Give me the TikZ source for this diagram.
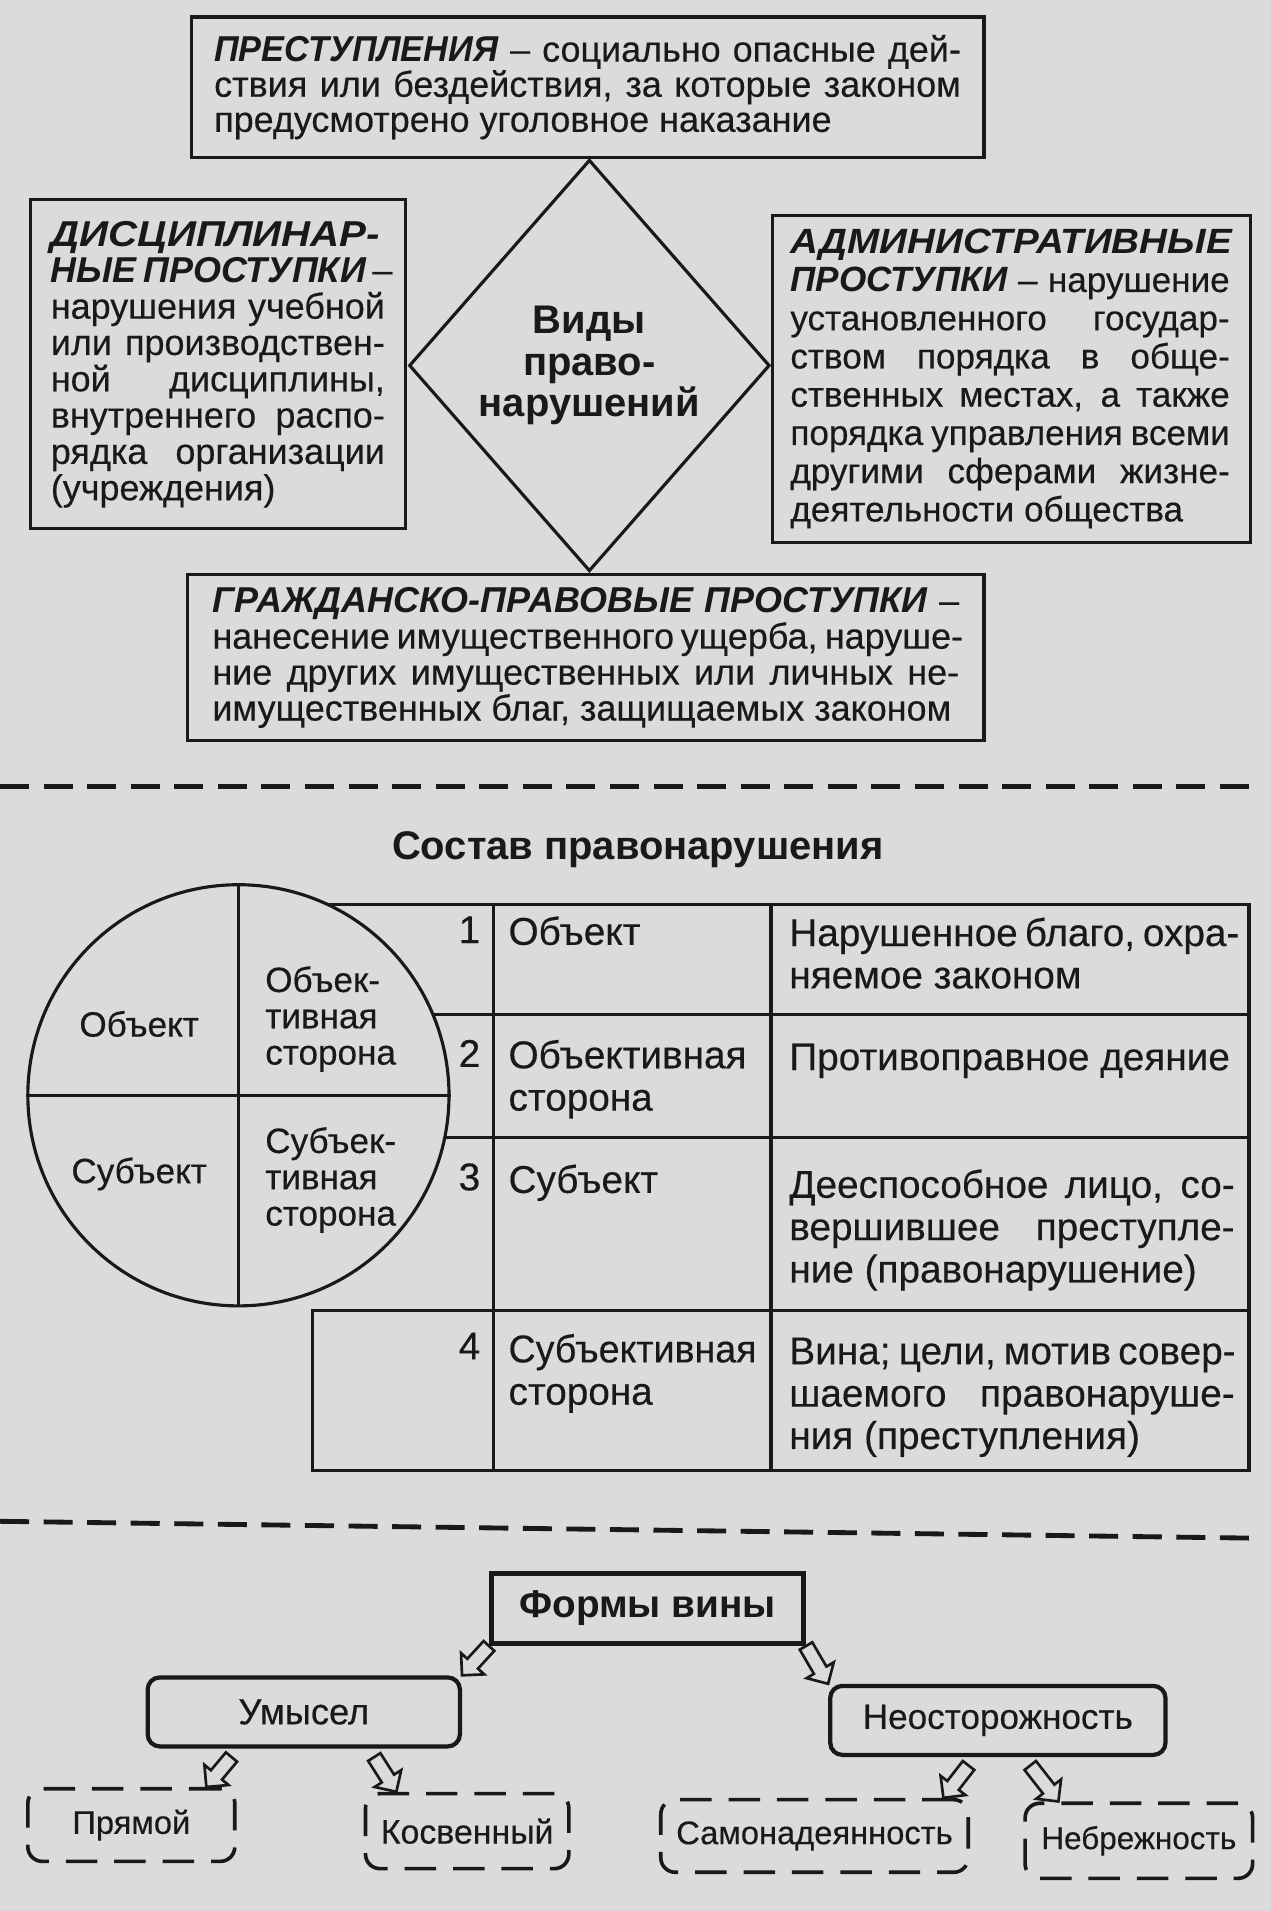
\documentclass[tikz,border=0pt]{standalone}
\usepackage{graphicx}
\usepackage{fontspec}
\setmainfont{Liberation Sans}[UprightFeatures={FakeBold=0.35}]
\usetikzlibrary{shapes.geometric,calc}
\definecolor{paper}{gray}{0.86}
\definecolor{ink}{gray}{0.1}
\newcommand\jl[2]{\makebox[#1][s]{#2}}
\newcommand\bi[1]{{\bfseries\itshape #1}}
\begin{document}
\begin{tikzpicture}[x=1pt,y=-1pt,
  every node/.style={text=ink},
  tbox/.style={draw=ink, line width=2.6pt, inner sep=0pt, align=left, rectangle},
  tline/.style={draw=ink, line width=2.6pt, line join=miter},
  sepline/.style={draw=ink, line width=4pt, dash pattern=on 24pt off 12pt},
  ctext/.style={font=\fontsize{29}{30}\selectfont, inner sep=0pt, align=left},
  cell/.style={font=\fontsize{32}{35}\selectfont, inner sep=0pt, align=left, anchor=north west},
  num/.style={font=\fontsize{32}{35}\selectfont, inner sep=0pt, anchor=north east},
  formbox/.style={draw=ink, line width=4pt, minimum width=258pt, minimum height=58pt, inner sep=0pt, font=\bfseries\fontsize{32}{32}\selectfont},
  rbox/.style={draw=ink, line width=3.5pt, rounded corners=10pt, inner sep=0pt},
  dbox/.style={draw=ink, line width=3pt, rounded corners=12pt, dash pattern=on 26pt off 14pt, inner sep=0pt},
  hollow/.style={draw=ink, fill=paper, line width=2.2pt, line join=miter, to path={
    ($(\tikztostart)!6pt!90:(\tikztotarget)$) --
    ($(\tikztotarget)!13pt!(\tikztostart)!6pt!90:(\tikztotarget)$) --
    ($(\tikztotarget)!13pt!(\tikztostart)!13pt!90:(\tikztotarget)$) --
    (\tikztotarget) --
    ($(\tikztotarget)!13pt!(\tikztostart)!13pt!-90:(\tikztotarget)$) --
    ($(\tikztotarget)!13pt!(\tikztostart)!6pt!-90:(\tikztotarget)$) --
    ($(\tikztostart)!6pt!-90:(\tikztotarget)$) -- cycle}}
]
\useasboundingbox (0,0) rectangle (1050,1579);
\fill[paper] (0,0) rectangle (1050,1579);

% ---------- Section 1 ----------
\node[tbox, minimum width=655pt, minimum height=116pt,
  font=\fontsize{29.7}{29}\selectfont] (prest) at (485.5,72)
 {\jl{617pt}{\scalebox{0.955}[1]{\bi{ПРЕСТУПЛЕНИЯ}} – социально опасные дей-}\\
  \jl{617pt}{ствия или бездействия, за которые законом}\\
  предусмотрено уголовное наказание};

\node[tbox, minimum width=310pt, minimum height=272pt,
  font=\fontsize{29.7}{30}\selectfont] (disc) at (180,301)
 {\scalebox{1.12}[1]{\bi{ДИСЦИПЛИНАР-}}\\
  \jl{276pt}{\bi{НЫЕ ПРОСТУПКИ} –}\\
  \jl{276pt}{нарушения учебной}\\
  \jl{276pt}{или производствен-}\\
  \jl{276pt}{ной дисциплины,}\\
  \jl{276pt}{внутреннего распо-}\\
  \jl{276pt}{рядка организации}\\
  (учреждения)};

\node[tbox, minimum width=395pt, minimum height=270pt,
  font=\fontsize{29}{31.6}\selectfont] (admin) at (835.5,313)
 {\scalebox{1.1}[1]{\bi{АДМИНИСТРАТИВНЫЕ}}\\
  \jl{363pt}{\bi{ПРОСТУПКИ} – нарушение}\\
  \jl{363pt}{установленного государ-}\\
  \jl{363pt}{ством порядка в обще-}\\
  \jl{363pt}{ственных местах, а также}\\
  \jl{363pt}{порядка управления всеми}\\
  \jl{363pt}{другими сферами жизне-}\\
  деятельности общества};

\node[tbox, minimum width=658pt, minimum height=137pt,
  font=\fontsize{29.7}{29.7}\selectfont] (civil) at (484,543.5)
 {\jl{617pt}{\bi{ГРАЖДАНСКО-ПРАВОВЫЕ ПРОСТУПКИ} –}\\
  \jl{617pt}{нанесение имущественного ущерба, наруше-}\\
  \jl{617pt}{ние других имущественных или личных не-}\\
  имущественных благ, защищаемых законом};

\node[diamond, draw=ink, line width=2.6pt, minimum width=298pt, minimum height=340pt,
  inner sep=0pt, align=center, font=\bfseries\fontsize{33}{34.5}\selectfont]
  (vidy) at (487,302) {Виды\\право-\\нарушений};

\coordinate (s1a) at (0,650);
\coordinate (s1b) at (1042,650);
\draw[sepline] (s1a) -- (s1b);

% ---------- Section 2 ----------
\node[font=\bfseries\fontsize{33}{33}\selectfont, inner sep=0pt] (sostav) at (527,702) {Состав правонарушения};

\draw[tline] (200,747) -- (1032,747) -- (1032,1215) -- (258,1215) -- (258,1083) -- (1032,1083);
\draw[tline] (200,838) -- (1032,838);
\draw[tline] (200,940) -- (1032,940);
\draw[tline] (408,747) -- (408,1215);
\draw[tline] (637,747) -- (637,1215);

\node[circle, draw=ink, fill=paper, line width=2.6pt, minimum size=348pt, inner sep=0pt] (circ) at (197,905) {};
\draw[tline] (circ.north) -- (circ.south);
\draw[tline] (circ.west) -- (circ.east);

\node[ctext] (co) at (115,846) {Объект};
\node[ctext, anchor=west] (cos) at (219,842) {Объек-\\тивная\\сторона};
\node[ctext] (cs) at (115,970) {Субъект};
\node[ctext, anchor=west] (css) at (219,975) {Субъек-\\тивная\\сторона};

\node[num] (n1) at (397,757) {1};
\node[num] (n2) at (397,859) {2};
\node[num] (n3) at (397,961) {3};
\node[num] (n4) at (397,1101) {4};

\node[cell] (a1) at (420,757) {Объект};
\node[cell] (a2) at (420,859) {Объективная\\сторона};
\node[cell] (a3) at (420,962) {Субъект};
\node[cell] (a4) at (420,1102) {\scalebox{0.97}[1]{Субъективная}\\сторона};

\node[cell] (b1) at (652,758) {\jl{368pt}{Нарушенное благо, охра-}\\няемое законом};
\node[cell] (b2) at (652,862) {Противоправное деяние};
\node[cell] (b3) at (652,966) {\jl{368pt}{Дееспособное лицо, со-}\\\jl{368pt}{вершившее преступле-}\\ние (правонарушение)};
\node[cell] (b4) at (652,1105) {\jl{368pt}{Вина; цели, мотив совер-}\\\jl{368pt}{шаемого правонаруше-}\\ния (преступления)};

\coordinate (s2a) at (0,1257);
\coordinate (s2b) at (1042,1271);
\draw[sepline] (s2a) -- (s2b);

% ---------- Section 3 ----------
\node[formbox] (forms) at (535,1329) {Формы вины};
\node[rbox, minimum width=258pt, minimum height=57pt, font=\fontsize{30}{30}\selectfont] (umysel) at (251,1414.5) {Умысел};
\node[rbox, minimum width=277pt, minimum height=57pt, font=\fontsize{29}{29}\selectfont] (neo) at (824.5,1421.5) {Неосторожность};
\node[dbox, minimum width=171pt, minimum height=60pt, font=\fontsize{27}{27}\selectfont] (pryamoy) at (108.5,1508) {Прямой};
\node[dbox, minimum width=168pt, minimum height=62pt, font=\fontsize{28}{28}\selectfont] (kosv) at (386,1513) {Косвенный};
\node[dbox, minimum width=254pt, minimum height=60pt, font=\fontsize{27}{27}\selectfont] (samo) at (673,1517) {Самонадеянность};
\node[dbox, minimum width=188pt, minimum height=62pt, font=\fontsize{26}{26}\selectfont] (nebr) at (941,1521) {Небрежность};

\coordinate (t3) at ([xshift=71pt,yshift=-7pt]umysel.south west);
\coordinate (h3) at ([xshift=-25pt]pryamoy.north east);
\coordinate (t4) at ([xshift=189pt,yshift=-7pt]umysel.south west);
\coordinate (h4) at ([xshift=27pt]kosv.north west);
\coordinate (t5) at ([xshift=116pt,yshift=-7pt]neo.south west);
\coordinate (h5) at ([xshift=-22pt]samo.north east);
\coordinate (t6) at ([xshift=167pt,yshift=-7pt]neo.south west);
\coordinate (h6) at ([xshift=29pt]nebr.north west);

\draw[hollow] (forms.south west) to (umysel.north east);
\draw[hollow] (forms.south east) to (neo.north west);
\draw[hollow] (t3) to (h3);
\draw[hollow] (t4) to (h4);
\draw[hollow] (t5) to (h5);
\draw[hollow] (t6) to (h6);
\end{tikzpicture}
\end{document}
